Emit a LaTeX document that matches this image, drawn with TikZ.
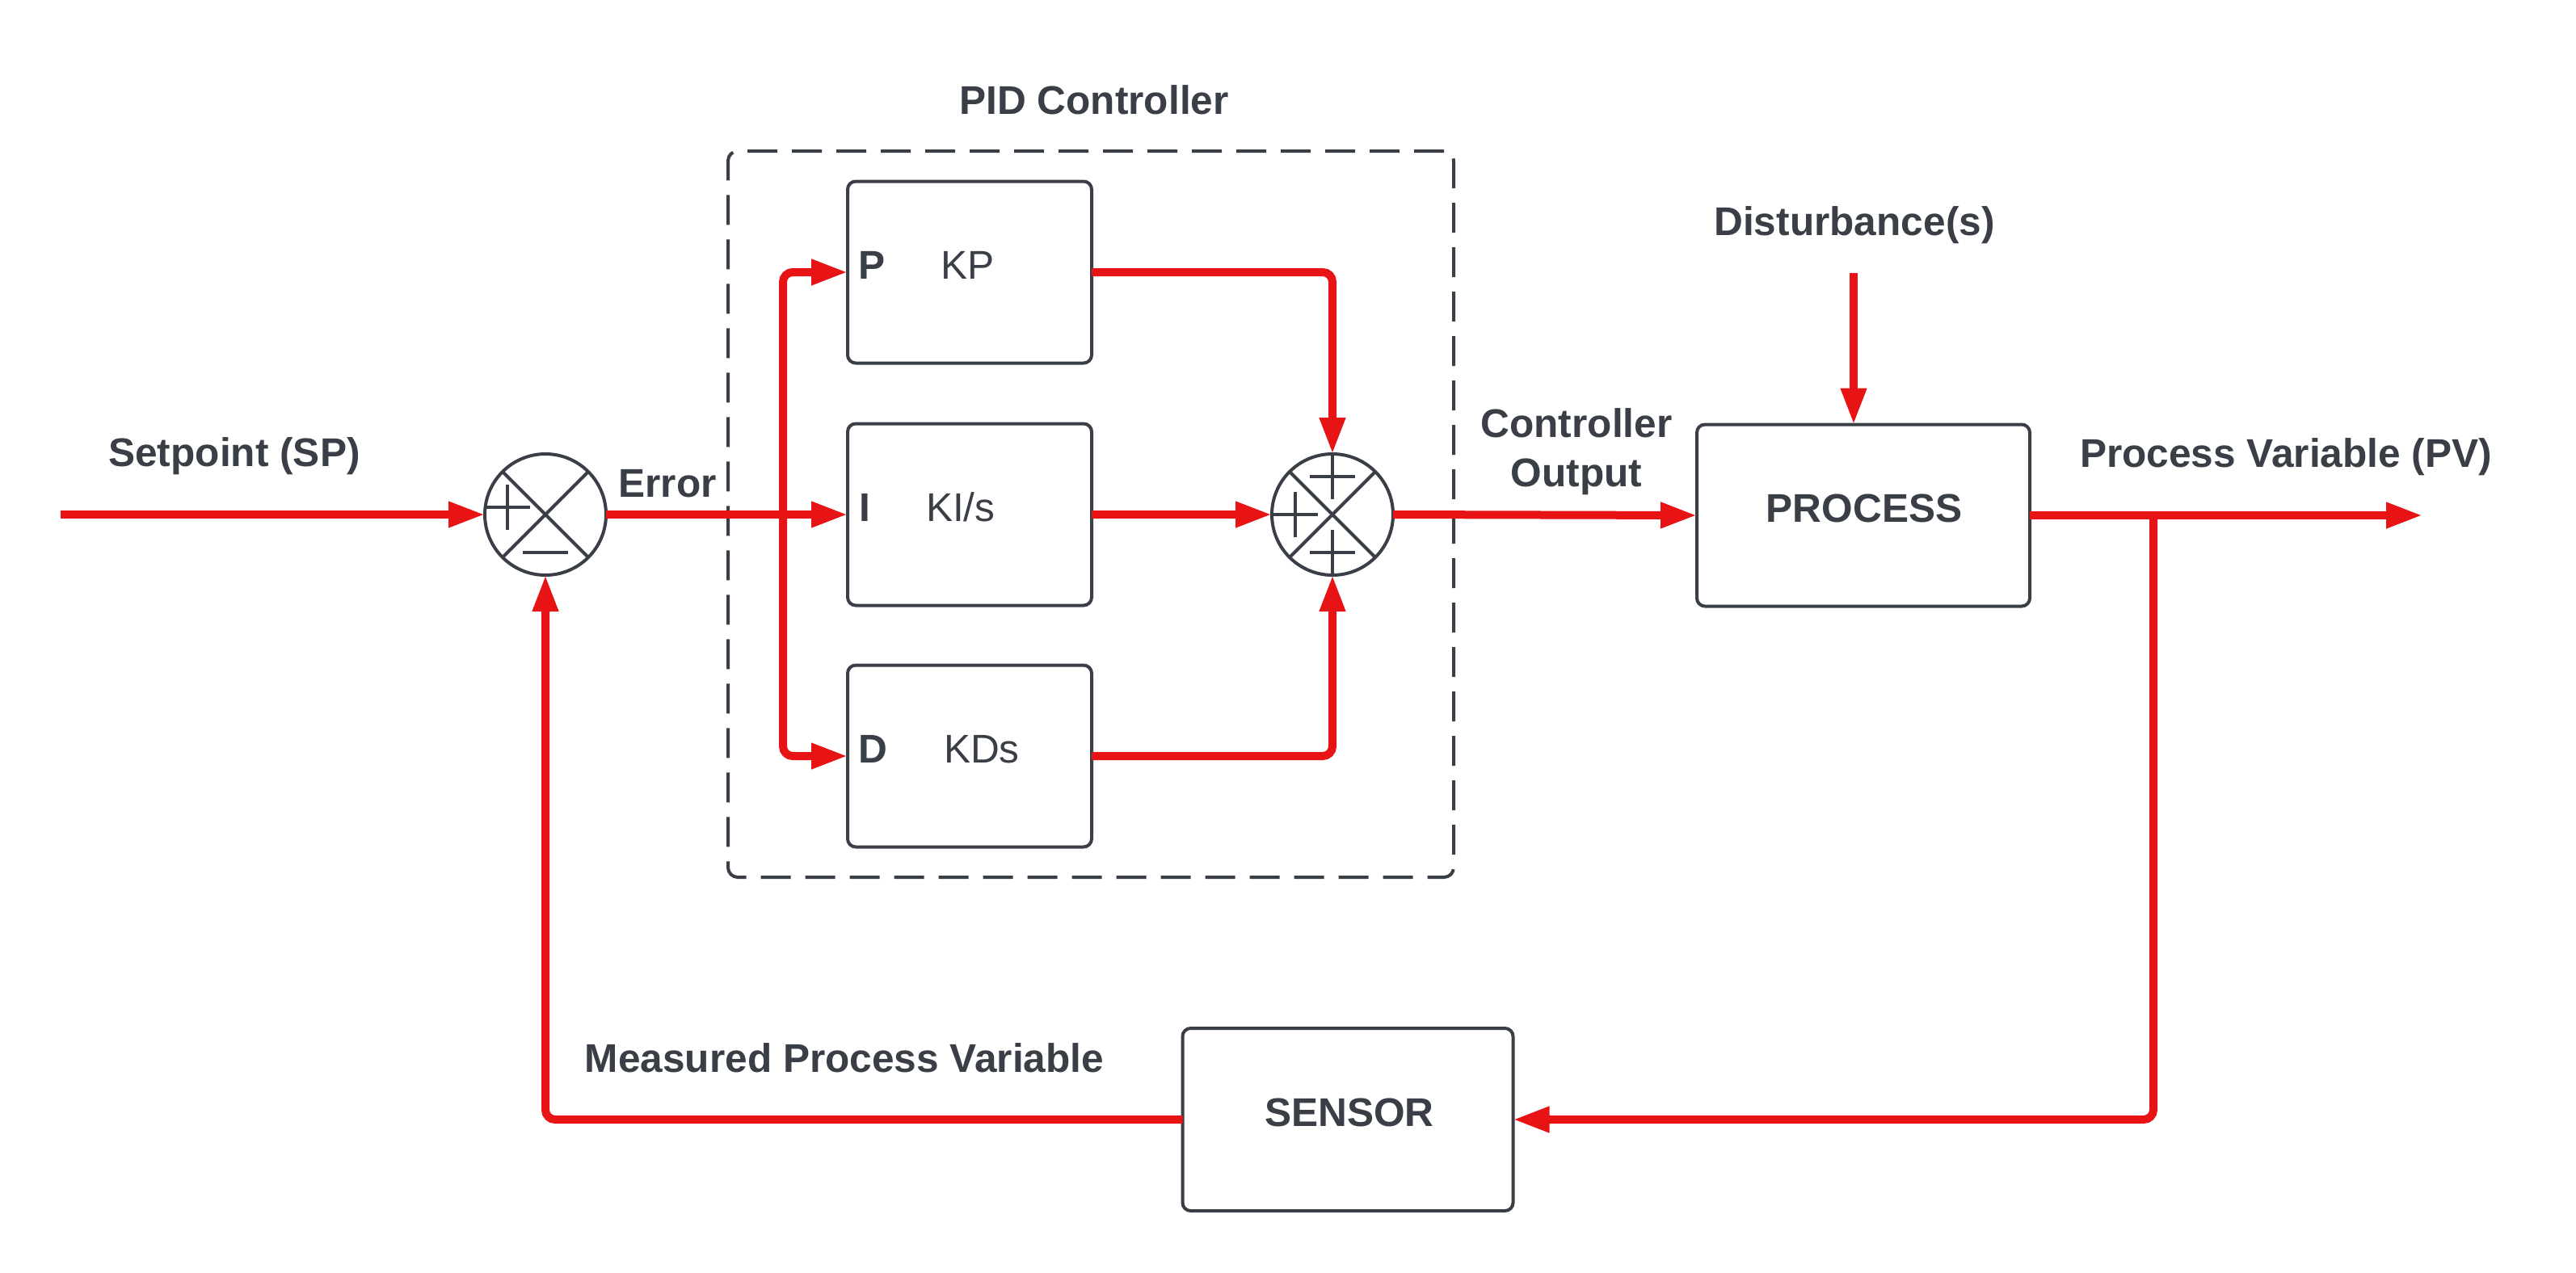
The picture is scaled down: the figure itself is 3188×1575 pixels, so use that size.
\documentclass[tikz,border=0pt]{standalone}
\usepackage{fontspec}
\setmainfont{Liberation Sans}
\usetikzlibrary{arrows.meta}
\definecolor{redline}{RGB}{231,19,20}
\definecolor{ink}{RGB}{58,63,71}
\begin{document}
\begin{tikzpicture}[x=0.25pt,y=-0.25pt,
  wire/.style={draw=redline,line width=2.5pt,rounded corners=3pt,-{Triangle[length=11.25pt,width=7.5pt]}},
  blk/.style={draw=ink,line width=1pt,rounded corners=2.5pt,minimum width=75.5pt,minimum height=56.25pt,inner sep=0pt,outer sep=0pt,fill=white},
  bigblk/.style={blk,minimum width=103pt},
  sumnode/.style={circle,draw=ink,line width=1pt,minimum size=37.5pt,inner sep=0pt,outer sep=0pt,fill=white},
  sym/.style={draw=ink,line width=1pt},
  lbl/.style={inner sep=0pt,outer sep=0pt,text=ink,font=\fontsize{12.4pt}{15.25pt}\selectfont\bfseries},
  lblr/.style={inner sep=0pt,outer sep=0pt,text=ink,font=\fontsize{12.4pt}{15.25pt}\selectfont}
]
\useasboundingbox (0,0) rectangle (3188,1575);

% PID dashed frame
\node[draw=ink,line width=1pt,dash pattern=on 9.25pt off 4.5pt,rounded corners=3pt,
      minimum width=224.5pt,minimum height=224.75pt,inner sep=0pt,outer sep=0pt] (pid) at (1350,636.5) {};
\node[lbl,anchor=base] (pidlbl) at (1354,141) {PID Controller};

% blocks
\node[blk] (P) at (1200,337) {};
\node[blk] (I) at (1200,637) {};
\node[blk] (D) at (1200,936) {};
\node[lbl,anchor=base west] (Pl) at (1062,345) {P};
\node[lblr,anchor=base west] (Pk) at (1164,345) {KP};
\node[lbl,anchor=base west] (Il) at (1063,645) {I};
\node[lblr,anchor=base west] (Ik) at (1146,645) {KI/s};
\node[lbl,anchor=base west] (Dl) at (1062,944) {D};
\node[lblr,anchor=base west] (Dk) at (1168,944) {KDs};

\node[bigblk] (proc) at (2306,638) {};
\node[lbl,anchor=base] (procl) at (2307,646) {PROCESS};
\node[bigblk,minimum width=102.25pt,minimum height=56.5pt] (sens) at (1668,1386) {};
\node[lbl,anchor=base] (sensl) at (1670,1394) {SENSOR};

% summing junctions
\node[sumnode] (sum1) at (675,637) {};
\draw[sym] (sum1.north west) -- (sum1.south east) (sum1.north east) -- (sum1.south west);
\draw[sym,shift={(sum1.center)}] (-75,-9) -- (-19,-9) (-47,-37) -- (-47,19) (-28,47) -- (28,47);
\node[sumnode] (sum2) at (1649,637) {};
\draw[sym] (sum2.north west) -- (sum2.south east) (sum2.north east) -- (sum2.south west);
\draw[sym,shift={(sum2.center)}] (-28,-47) -- (28,-47) (0,-75) -- (0,-19)
  (-74,0) -- (-18,0) (-46,-28) -- (-46,28)
  (-28,47) -- (28,47) (0,19) -- (0,75);

% texts
\node[lbl,anchor=base] (spl) at (290,577) {Setpoint (SP)};
\node[lbl,anchor=base] (errl) at (826,615) {Error};
\node[lbl,anchor=base] (col1) at (1951,541) {Controller};
\node[lbl,anchor=base] (col2) at (1951,602) {Output};
\node[lbl,anchor=base] (distl) at (2295,291) {Disturbance(s)};
\node[lbl,anchor=base] (pvl) at (2829,578) {Process Variable (PV)};
\node[lbl,anchor=base] (mpvl) at (1045,1327) {Measured Process Variable};

% connectors
\coordinate (sp) at (75,637);
\coordinate (br) at (969,637);
\coordinate (dist) at (2294,338);
\coordinate (pv) at (2998,638);
\coordinate (pvbr) at (2665,638);

\draw[wire] (sp) -- (sum1.west);
\draw[wire] (sum1.east) -- (I.west);
\draw[wire] (br) |- (P.west);
\draw[wire] (br) |- (D.west);
\draw[wire] (P.east) -| (sum2.north);
\draw[wire] (I.east) -- (sum2.west);
\draw[wire] (D.east) -| (sum2.south);
\draw[wire] (sum2.east) -- (proc.west);
\draw[wire] (dist) -- (dist |- proc.north);
\draw[wire] (proc.east) -- (pv);
\draw[wire] (pvbr) |- (sens.east);
\draw[wire] (sens.west) -| (sum1.south);
\end{tikzpicture}
\end{document}
